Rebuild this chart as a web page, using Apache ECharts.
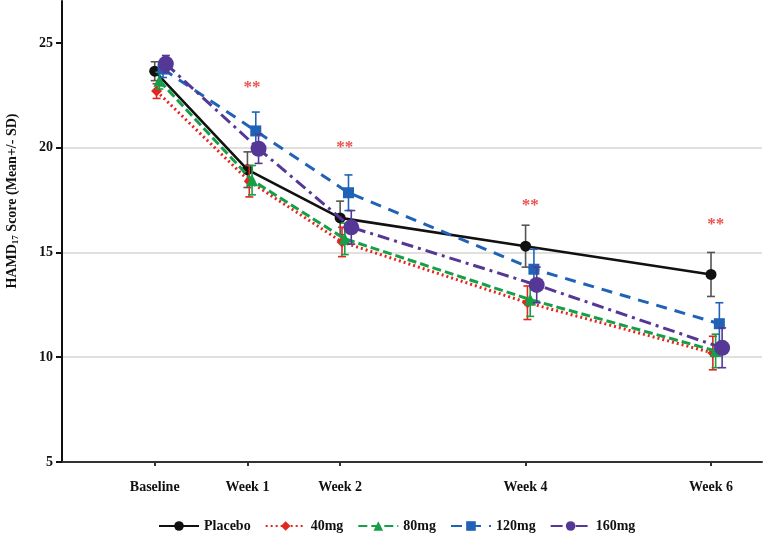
<!DOCTYPE html>
<html lang="en">
<head>
    <meta charset="UTF-8">
    <title>HAMD17 score</title>
    <style>
        html, body { margin: 0; padding: 0; background: #fff; }
        #chart { width: 764px; height: 542px; }
    </style>
</head>
<body>
<div id="chart"></div>
<script src="https://cdn.jsdelivr.net/npm/echarts@6/dist/echarts.min.js"></script>
<script>
    // time points (weeks) and their labels
    var weeks = [0, 1, 2, 4, 6];
    var timeLabels = ['Baseline', 'Week 1', 'Week 2', 'Week 4', 'Week 6'];
    var yTicks = [5, 10, 15, 20, 25];

    // mean and SD per group
    var placeboMean = [23.65, 18.95, 16.65, 15.3, 13.95];
    var placeboSD   = [0.45, 0.85, 0.8, 1.0, 1.05];
    var mg40Mean = [22.7, 18.4, 15.5, 12.6, 10.2];
    var mg40SD   = [0.35, 0.75, 0.7, 0.8, 0.8];
    var mg80Mean = [23.2, 18.45, 15.65, 12.75, 10.3];
    var mg80SD   = [0.4, 0.7, 0.75, 0.8, 0.8];
    var mg120Mean = [23.75, 20.8, 17.85, 14.2, 11.6];
    var mg120SD   = [0.4, 0.9, 0.85, 0.95, 1.0];
    var mg160Mean = [24.0, 19.95, 16.2, 13.45, 10.45];
    var mg160SD   = [0.4, 0.7, 0.8, 0.85, 0.95];

    // significance markers (** ) height per time point
    var sigY = [null, 22.85, 20.0, 17.25, 16.35];

    var font = '"Liberation Serif", "DejaVu Serif", serif';

    var groups = [
        {name: 'Placebo', mean: placeboMean, sd: placeboSD, color: '#111111', barColor: '#555555',
            dx: 0, symbol: 'circle', size: 11, line: {type: 'solid', width: 2.6}},
        {name: '40mg', mean: mg40Mean, sd: mg40SD, color: '#e3261f', barColor: '#e3261f',
            dx: 0.02, symbol: 'diamond', size: 11, line: {type: [2, 3], width: 3}},
        {name: '80mg', mean: mg80Mean, sd: mg80SD, color: '#15a047', barColor: '#15a047',
            dx: 0.05, symbol: 'triangle', size: 12, line: {type: [9, 4], width: 3}},
        {name: '120mg', mean: mg120Mean, sd: mg120SD, color: '#1f62b6', barColor: '#1f62b6',
            dx: 0.09, symbol: 'rect', size: 11, line: {type: [11, 8], width: 3}},
        {name: '160mg', mean: mg160Mean, sd: mg160SD, color: '#553895', barColor: '#553895',
            dx: 0.12, symbol: 'circle', size: 16, line: {type: [12, 5, 3, 5], width: 3}}
    ];

    function errorBar(params, api) {
        var x = api.value(0);
        var lo = api.coord([x, api.value(1)]);
        var hi = api.coord([x, api.value(2)]);
        var cap = 4;
        var st = {stroke: api.visual('color'), lineWidth: 1.6};
        return {
            type: 'group',
            children: [
                {type: 'line', shape: {x1: lo[0], y1: lo[1], x2: hi[0], y2: hi[1]}, style: st},
                {type: 'line', shape: {x1: lo[0] - cap, y1: lo[1], x2: lo[0] + cap, y2: lo[1]}, style: st},
                {type: 'line', shape: {x1: hi[0] - cap, y1: hi[1], x2: hi[0] + cap, y2: hi[1]}, style: st}
            ]
        };
    }

    var series = [];
    groups.forEach(function (g, k) {
        var bars = weeks.map(function (w, i) {
            return [w + g.dx, g.mean[i] - g.sd[i], g.mean[i] + g.sd[i]];
        });
        series.push({
            name: g.name + ' SD',
            type: 'custom',
            renderItem: errorBar,
            itemStyle: {color: g.barColor},
            encode: {x: 0, y: [1, 2]},
            data: bars,
            z: 2 + k * 2
        });
        series.push({
            name: g.name,
            type: 'line',
            data: weeks.map(function (w, i) { return [w + g.dx, g.mean[i]]; }),
            symbol: g.symbol,
            symbolSize: g.size,
            showAllSymbol: true,
            color: g.color,
            itemStyle: {color: g.color},
            lineStyle: {color: g.color, width: g.line.width, type: g.line.type},
            z: 3 + k * 2
        });
    });

    series.push({
        name: 'sig',
        type: 'scatter',
        symbolSize: 0,
        data: weeks.map(function (w, i) { return sigY[i] == null ? null : [w + 0.05, sigY[i]]; })
            .filter(function (d) { return d; }),
        label: {
            show: true, position: 'inside', formatter: '**',
            color: '#e3261f', fontSize: 17, fontWeight: 'bold', fontFamily: font
        },
        z: 20
    });

    var chart = echarts.init(document.getElementById('chart'));
    chart.setOption({
        animation: false,
        backgroundColor: '#ffffff',
        grid: {left: 62, right: 2, top: 1, bottom: 80},
        legend: {
            data: groups.map(function (g) { return g.name; }),
            bottom: 4,
            left: 153,
            itemWidth: 40,
            itemHeight: 12,
            itemGap: 14,
            textStyle: {fontFamily: font, fontSize: 14, fontWeight: 'bold', color: '#111'}
        },
        xAxis: {
            type: 'value',
            min: -1,
            max: 6.55,
            axisLine: {onZero: false, lineStyle: {color: '#333', width: 2}},
            axisTick: {show: true, customValues: weeks, length: 4, lineStyle: {color: '#333', width: 2}},
            axisLabel: {
                customValues: weeks,
                margin: 18,
                formatter: function (v) { return timeLabels[weeks.indexOf(v)]; },
                fontFamily: font, fontSize: 14, fontWeight: 'bold', color: '#111'
            },
            splitLine: {show: false}
        },
        yAxis: {
            type: 'value',
            min: 5,
            max: 27,
            interval: 5,
            axisLine: {show: true, onZero: false, lineStyle: {color: '#111', width: 2}},
            axisTick: {show: true, customValues: yTicks, length: 6, lineStyle: {color: '#111', width: 2}},
            axisLabel: {
                customValues: yTicks,
                margin: 9,
                fontFamily: font, fontSize: 14, fontWeight: 'bold', color: '#111'
            },
            splitLine: {show: true, showMinLine: false, showMaxLine: false, lineStyle: {color: '#d6d6d6', width: 1.5}}
        },
        graphic: [{
            type: 'text',
            x: 12,
            y: 201,
            rotation: Math.PI / 2,
            style: {
                text: 'HAMD{s|17} Score (Mean+/- SD)',
                align: 'center',
                verticalAlign: 'middle',
                fontFamily: font,
                fontSize: 14,
                fontWeight: 'bold',
                fill: '#111',
                rich: {
                    s: {fontFamily: font, fontSize: 9, fontWeight: 'bold', fill: '#111',
                        verticalAlign: 'bottom', padding: [7, 0, 0, 0]}
                }
            }
        }],
        series: series
    });
</script>
</body>
</html>
